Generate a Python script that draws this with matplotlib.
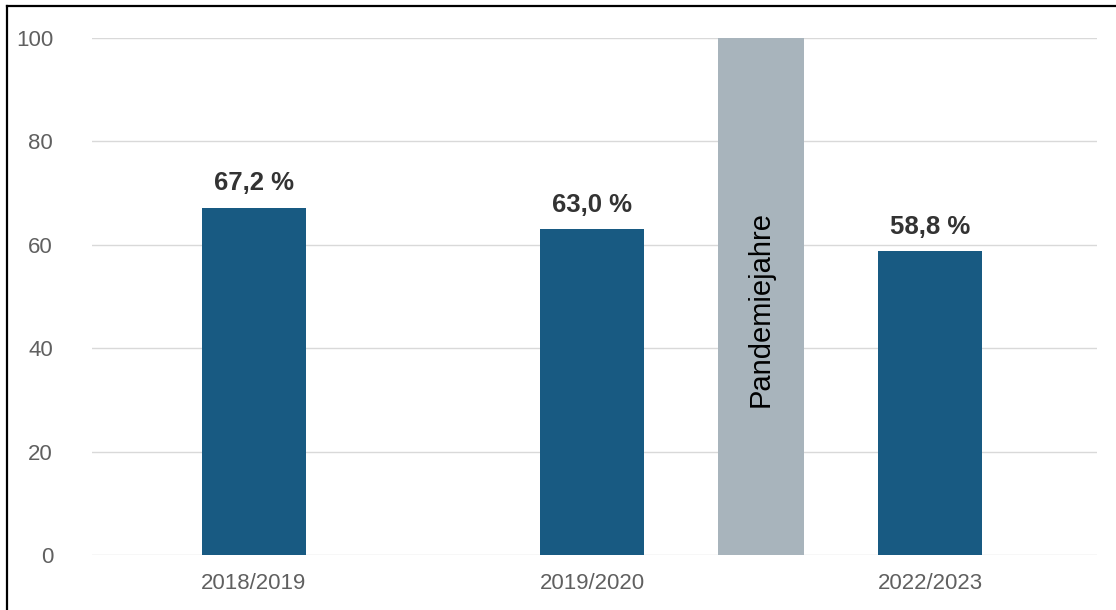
import matplotlib
matplotlib.use("Agg")
import matplotlib.pyplot as plt
from matplotlib.lines import Line2D

plt.rcParams['font.family'] = ['Liberation Sans', 'DejaVu Sans']

# Data
seasons = ["2018/2019", "2019/2020", "2022/2023"]
shares = [67.2, 63.0, 58.8]
value_labels = ["67,2 %", "63,0 %", "58,8 %"]
pandemic_label = "Pandemiejahre"
pandemic_value = 100
y_ticks = [0, 20, 40, 60, 80, 100]

W, H = 1116, 610
fig = plt.figure(figsize=(W / 100, H / 100), dpi=100)
fig.patch.set_facecolor("white")

left_px, right_px, top_px, bottom_px = 92, 1097, 38, 555
ax = fig.add_axes([left_px / W, (H - bottom_px) / H,
                   (right_px - left_px) / W, (bottom_px - top_px) / H])

blue = "#185a82"
grey = "#a8b4bc"

x = list(range(len(seasons)))
ax.bar(x, shares, width=0.31, color=blue, zorder=3)

# Shaded column between the 2019/2020 and 2022/2023 seasons
ax.bar([1.5], [pandemic_value], width=0.256, color=grey, zorder=3)
ax.text(1.5, 47.5, pandemic_label, rotation=90, ha="center", va="center",
        fontsize=21, color="black", zorder=4)

for xi, v, lab in zip(x, shares, value_labels):
    ax.annotate(lab, (xi, v), xytext=(0, 12.5), textcoords="offset points",
                ha="center", va="baseline", fontsize=18.5, fontweight="bold",
                color="#333333", zorder=4)

ax.set_ylim(0, 100)
ax.set_xlim(-0.479, 2.494)
ax.set_yticks(y_ticks)
ax.set_xticks(x)
ax.set_xticklabels(seasons)
ax.yaxis.grid(True, color="#d9d9d9", linewidth=1.0, zorder=0)
ax.set_axisbelow(True)
for s in ax.spines.values():
    s.set_visible(False)
ax.tick_params(axis="both", length=0, labelsize=16, labelcolor="#606060")
ax.tick_params(axis="y", pad=28)
ax.tick_params(axis="x", pad=13)

# Frame lines along the top and left edges
fig.add_artist(Line2D([7 / W, 1.0], [1 - 6 / H, 1 - 6 / H],
                      color="black", linewidth=1.6, transform=fig.transFigure))
fig.add_artist(Line2D([7 / W, 7 / W], [0.0, 1 - 6 / H],
                      color="black", linewidth=1.6, transform=fig.transFigure))

fig.savefig("out.png", dpi=100, facecolor="white")
